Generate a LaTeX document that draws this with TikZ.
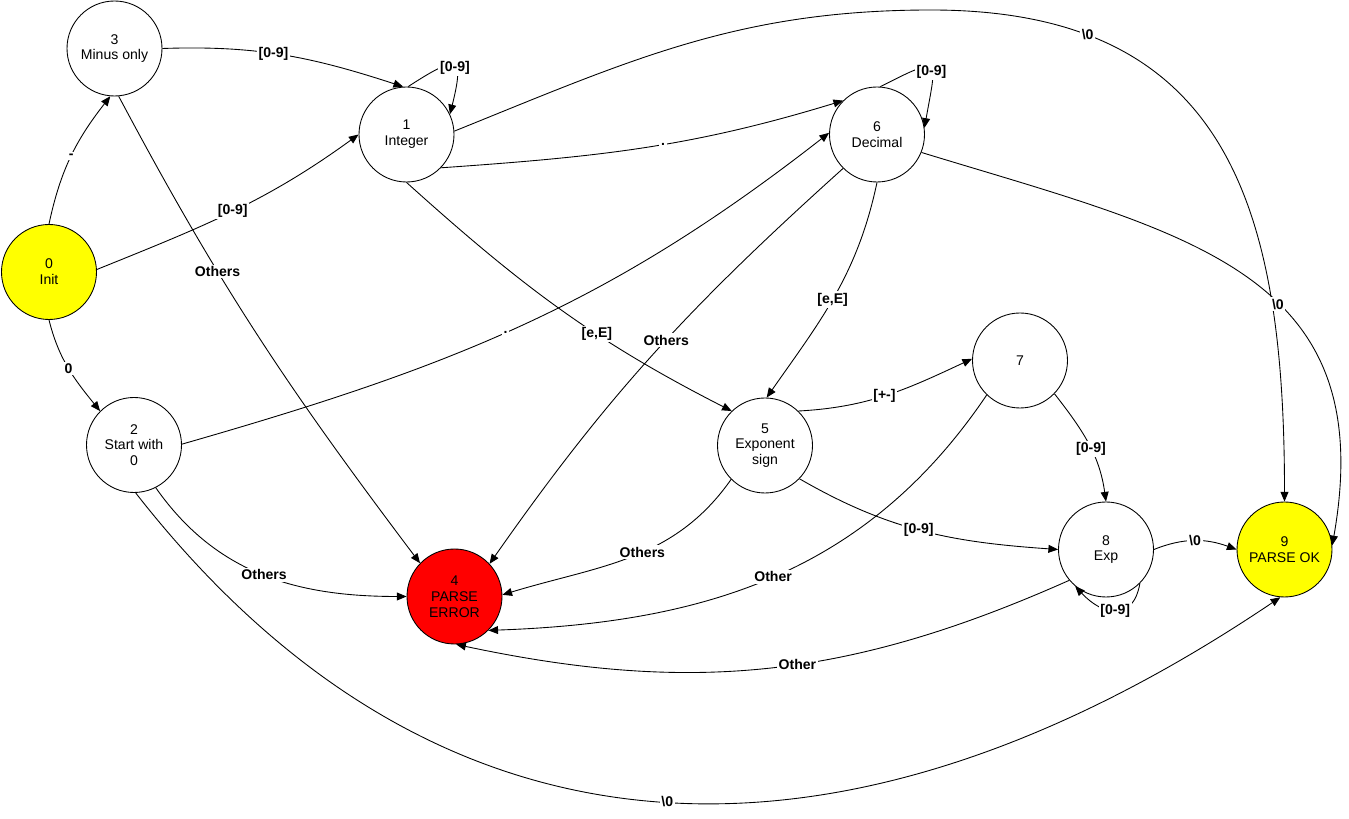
\documentclass[tikz,border=0pt]{standalone}
\usepackage{fontspec}
\setmainfont{Liberation Sans}
\usepackage{tikz}
\usepackage{xcolor}
\usetikzlibrary{arrows.meta, positioning}
\definecolor{FsmYellow}{HTML}{FFFF00}
\definecolor{FsmRed}{HTML}{FF0000}
\definecolor{FsmBlack}{HTML}{000000}
\tikzset{
    fsmstate/.style={
        circle,
        draw=FsmBlack,
        fill=#1,
        line width=0.5pt,
        minimum size=1.9cm,
        inner sep=0pt,
        text=FsmBlack,
        font=\fontsize{8}{9}\selectfont,
        align=center
    },
    fsmstate/.default=white,
    trans/.style={
        -{Triangle[length=5.5pt,width=4.5pt]},
        line width=0.5pt,
        FsmBlack
    },
    edgelabel/.style={
        fill=white,
        inner sep=1pt,
        font=\fontsize{8}{9}\selectfont\bfseries
    }
}

\begin{document}
\begin{tikzpicture}
        \useasboundingbox (0,0) rectangle (26.98,-16.38);

        % States
        \node[fsmstate=FsmYellow] (init) at (0.98,-5.44) {0\\Init};
        \node[fsmstate] (minus) at (2.29,-0.97) {3\\Minus only};
        \node[fsmstate] (integer) at (8.13,-2.69) {1\\Integer};
        \node[fsmstate] (decimal) at (17.54,-2.69) {6\\Decimal};
        \node[fsmstate] (startzero) at (2.68,-8.90) {2\\Start with\\0};
        \node[fsmstate=FsmRed] (error) at (9.09,-11.93) {4\\PARSE\\ERROR};
        \node[fsmstate] (expsign) at (15.30,-8.91) {5\\Exponent\\sign};
        \node[fsmstate] (signed) at (20.40,-7.21) {7};
        \node[fsmstate] (exp) at (22.12,-10.99) {8\\Exp};
        \node[fsmstate=FsmYellow] (ok) at (25.69,-10.99) {9\\PARSE OK};

        % From init
        \draw[trans] (init.90) to[out=78,in=232] node[edgelabel] {-} (minus.265);
        \draw[trans] (init.3) to[out=22,in=216] node[edgelabel] {[0-9]} (integer.180);
        \draw[trans] (init.270) to[out=-76,in=129] node[edgelabel] {0} (startzero.135);

        % From minus only
        \draw[trans] (minus.0) to[out=2,in=162] node[edgelabel, pos=0.45] {[0-9]} (integer.94);
        \draw[trans] (minus.275) to[out=-62,in=127] node[edgelabel, pos=0.35] {Others} (error.136);

        % From integer
        \draw[trans] (integer.88) .. controls +(33:1.2) and +(76:1.2) .. (integer.25) node[edgelabel, pos=0.55] {[0-9]};
        \draw[trans] (integer.-44) to[out=4,in=197] node[edgelabel, pos=0.55] {.} (decimal.135);
        \draw[trans] (integer.270) to[out=-42,in=153] node[edgelabel, pos=0.62] {[e,E]} (expsign.134);
        \draw[trans] (integer.4) to[out=22,in=180] (18.62,-0.20)
            to[out=0,in=90,looseness=1.25] node[edgelabel, pos=0.21] {\textbackslash 0} (ok.90);

        % From start with 0
        \draw[trans] (startzero.1) to[out=16,in=218] node[edgelabel, pos=0.47] {.} (decimal.178);
        \draw[trans] (startzero.-63) to[out=-55,in=180] node[edgelabel] {Others} (error.180);
        \draw[trans] (startzero.272) to[out=-52,in=214,looseness=1.13] node[edgelabel] {\textbackslash 0} (ok.265);

        % From decimal
        \draw[trans] (decimal.86) .. controls +(27:1.4) and +(80:1.4) .. (decimal.8) node[edgelabel, pos=0.55] {[0-9]};
        \draw[trans] (decimal.270) to[out=-102,in=55] node[edgelabel, pos=0.52] {[e,E]} (expsign.88);
        \draw[trans] (decimal.225) to[out=222,in=55] node[edgelabel, pos=0.46] {Others} (error.43);
        \draw[trans] (decimal.-22) to[out=-17,in=80,looseness=1.25] node[edgelabel, pos=0.58] {\textbackslash 0} (ok.5);

        % From exponent sign
        \draw[trans] (expsign.46) to[out=3,in=205] node[edgelabel, pos=0.48] {[+-]} (signed.178);
        \draw[trans] (expsign.225) to[out=235,in=17] node[edgelabel, pos=0.45] {Others} (error.2);
        \draw[trans] (expsign.-44) to[out=-30,in=176] node[edgelabel, pos=0.48] {[0-9]} (exp.180);

        % From 7
        \draw[trans] (signed.-44) to[out=-52,in=98] node[edgelabel, pos=0.55] {[0-9]} (exp.90);
        \draw[trans] (signed.-134) to[out=236,in=2] node[edgelabel] {Other} (error.-45);

        % From exp
        \draw[trans] (exp.0) to[out=22,in=160] node[edgelabel] {\textbackslash 0} (ok.180);
        \draw[trans] (exp.-45) .. controls +(-100:0.8) and +(-47:0.8) .. (exp.-130) node[edgelabel, pos=0.5] {[0-9]};
        \draw[trans] (exp.-140) to[out=204,in=-12] node[edgelabel, pos=0.45] {Other} (error.272);
    \end{tikzpicture}
\end{document}
